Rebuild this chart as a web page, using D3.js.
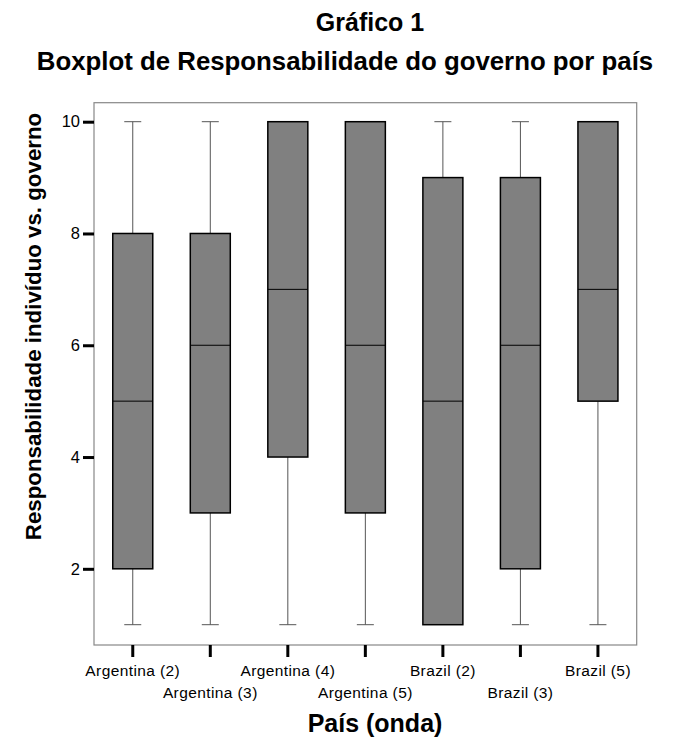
<!DOCTYPE html>
<html><head><meta charset="utf-8">
<script src="https://cdn.jsdelivr.net/npm/d3@7"></script>
<style>body{margin:0;background:#fff}svg{display:block}</style>
</head><body>
<svg id="c" width="683" height="738"></svg>
<script>
const categories = ["Argentina (2)","Argentina (3)","Argentina (4)","Argentina (5)","Brazil (2)","Brazil (3)","Brazil (5)"];
const mins    = [1,1,1,1,1,1,1];
const q1s     = [2,3,4,3,1,2,5];
const medians = [5,6,7,6,5,6,7];
const q3s     = [8,8,10,10,9,9,10];
const maxs    = [10,10,10,10,10,10,10];
const yTicks  = [2,4,6,8,10];

const svg = d3.select("#c");
const L=94, R=636.7, T=102.7, B=645;
const x = d3.scaleBand().domain(categories).range([L,R]);
const y = d3.scaleLinear().domain([1,10]).range([624.7,121.7]);

svg.append("rect").attr("x",L).attr("y",T).attr("width",R-L).attr("height",B-T)
  .attr("fill","none").attr("stroke","#888").attr("stroke-width",1.2);

const data = categories.map((c,i)=>({c,min:mins[i],q1:q1s[i],med:medians[i],q3:q3s[i],max:maxs[i]}));
const bw = 40, cap = 17;
const g = svg.append("g");
data.forEach(d=>{
  const cx = x(d.c)+x.bandwidth()/2;
  if(d.max>d.q3){
    g.append("line").attr("x1",cx).attr("x2",cx).attr("y1",y(d.max)).attr("y2",y(d.q3)).attr("stroke","#555").attr("stroke-width",1);
    g.append("line").attr("x1",cx-cap/2).attr("x2",cx+cap/2).attr("y1",y(d.max)).attr("y2",y(d.max)).attr("stroke","#555").attr("stroke-width",1);
  }
  if(d.min<d.q1){
    g.append("line").attr("x1",cx).attr("x2",cx).attr("y1",y(d.q1)).attr("y2",y(d.min)).attr("stroke","#555").attr("stroke-width",1);
    g.append("line").attr("x1",cx-cap/2).attr("x2",cx+cap/2).attr("y1",y(d.min)).attr("y2",y(d.min)).attr("stroke","#555").attr("stroke-width",1);
  }
  g.append("rect").attr("x",cx-bw/2).attr("y",y(d.q3)).attr("width",bw).attr("height",y(d.q1)-y(d.q3))
    .attr("fill","#808080").attr("stroke","#000").attr("stroke-width",1.5);
  g.append("line").attr("x1",cx-bw/2).attr("x2",cx+bw/2).attr("y1",y(d.med)).attr("y2",y(d.med)).attr("stroke","#000").attr("stroke-width",1);
});

const ya = svg.append("g").attr("transform",`translate(${L},0)`)
  .call(d3.axisLeft(y).tickValues(yTicks).tickSize(11).tickPadding(3).tickFormat(d3.format("d")));
ya.select(".domain").remove();
ya.selectAll(".tick line").attr("stroke","#000").attr("stroke-width",3);
ya.selectAll(".tick text").attr("font-family","Liberation Sans, Arial, sans-serif").attr("font-size",16.5).attr("fill","#000");

const xa = svg.append("g").attr("transform",`translate(0,${B})`)
  .call(d3.axisBottom(x).tickSize(12).tickPadding(5));
xa.select(".domain").remove();
xa.selectAll(".tick line").attr("stroke","#000").attr("stroke-width",3);
xa.selectAll(".tick text").attr("font-family","Liberation Sans, Arial, sans-serif").attr("font-size",15.5).attr("fill","#000")
  .attr("letter-spacing",0.4)
  .attr("dy",(d,i)=> i%2===0 ? "0.9em" : "2.35em");

const tf = "Liberation Sans, Arial, sans-serif";
svg.append("text").attr("x",370).attr("y",31).attr("text-anchor","middle")
  .attr("font-family",tf).attr("font-weight","bold").attr("font-size",25)
  .text("Gráfico 1");
svg.append("text").attr("x",345).attr("y",70).attr("text-anchor","middle")
  .attr("font-family",tf).attr("font-weight","bold").attr("font-size",25.8)
  .text("Boxplot de Responsabilidade do governo por país");
svg.append("text").attr("x",375).attr("y",732).attr("text-anchor","middle")
  .attr("font-family",tf).attr("font-weight","bold").attr("font-size",25)
  .text("País (onda)");
svg.append("text").attr("transform","translate(41,326.5) rotate(-90)").attr("text-anchor","middle")
  .attr("font-family",tf).attr("font-weight","bold").attr("font-size",22.3)
  .text("Responsabilidade indivíduo vs. governo");
</script>
</body></html>
